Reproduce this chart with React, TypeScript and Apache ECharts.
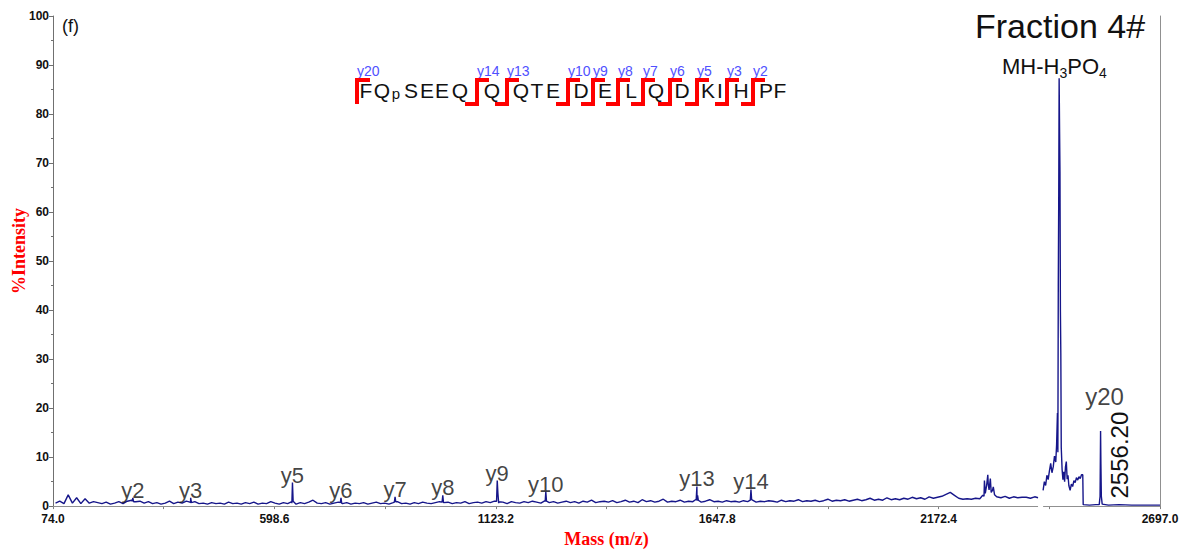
import React, { useEffect, useRef } from "react";
import * as echarts from "echarts";

// ---------------- data ----------------
const massMin = 74.0;
const massMax = 2697.0;
const xMajorTicks = [74.0, 598.6, 1123.2, 1647.8, 2172.4, 2697.0];
const xMinorTicks = [336.3, 860.9, 1385.5, 1910.1, 2434.7];
const intensityMax = 100;
const intensityInterval = 10;
const axisBreak = [2408, 2420];

const baselineStartMass = 80;
const baselineStepMass = 10;
const baselineIntensity = [
  0.6, 1.0, 0.5, 2.3, 0.6, 1.7, 0.5, 1.5, 0.6, 0.9,
  0.7, 0.5, 0.8, 0.4, 0.6, 0.9, 0.5, 1.0, 1.2, 0.9,
  1.0, 0.6, 0.9, 0.5, 0.7, 0.4, 0.6, 1.0, 0.5, 0.8,
  0.6, 1.0, 0.7, 0.9, 0.5, 0.6, 0.4, 0.7, 0.5, 0.6,
  0.4, 0.8, 0.5, 0.6, 0.4, 0.7, 0.5, 0.8, 0.4, 0.6,
  0.5, 0.9, 0.6, 0.4, 0.7, 0.5, 0.6, 0.4, 0.7, 0.5,
  0.8, 1.2, 0.6, 0.5, 0.7, 0.4, 0.6, 0.8, 0.5, 0.7,
  0.4, 0.6, 0.5, 0.7, 0.4, 0.6, 0.8, 0.5, 0.6, 0.4,
  0.7, 0.9, 0.5, 0.6, 0.4, 0.7, 0.5, 0.8, 0.6, 0.5,
  0.7, 0.9, 0.6, 0.8, 0.5, 0.7, 0.6, 0.9, 0.5, 0.7,
  0.8, 0.6, 0.9, 0.7, 1.0, 0.6, 0.8, 0.5, 0.9, 0.7,
  0.6, 0.9, 0.7, 1.0, 0.8, 0.6, 1.1, 0.7, 0.9, 0.6,
  0.8, 1.0, 0.7, 0.9, 0.6, 1.0, 0.8, 1.2, 0.7, 0.9,
  1.0, 0.8, 1.1, 0.7, 0.9, 1.2, 0.8, 1.0, 0.7, 1.3,
  0.9, 1.1, 0.8, 1.0, 1.4, 0.8, 1.0, 0.9, 1.2, 0.8,
  1.0, 0.9, 1.1, 0.8, 1.0, 1.3, 0.9, 1.0, 0.8, 1.1,
  0.9, 1.0, 0.8, 1.1, 0.9, 1.2, 0.8, 1.0, 0.9, 1.1,
  1.0, 0.8, 1.2, 0.9, 1.1, 1.0, 1.3, 0.9, 1.1, 1.0,
  1.2, 0.9, 1.1, 1.4, 1.0, 1.2, 1.1, 1.3, 1.0, 1.2,
  1.4, 1.1, 1.3, 1.6, 1.2, 1.4, 1.2, 1.7, 1.3, 1.5,
  1.3, 1.6, 1.4, 1.8, 1.5, 1.7, 1.4, 1.9, 1.6, 1.8,
  2.0, 2.4, 2.8, 2.2, 1.6, 1.4, 1.5, 1.4, 1.6, 1.5,
  2.0, 4.5, 3.2, 1.9, 1.7, 2.0, 1.6, 1.9, 1.7, 1.8,
  1.8, 1.6, 1.9,
];

const fragmentPeaks: [number, number][] = [
  [261.5, 1.0], [263.2, 1.7], [265.0, 0.9],
  [398.5, 0.8], [400.2, 1.7], [402.0, 0.7],
  [639.8, 0.9], [641.4, 4.8], [643.0, 1.0],
  [754.8, 0.7], [756.4, 1.7], [758.0, 0.6],
  [882.9, 0.8], [884.5, 1.9], [886.1, 0.9],
  [996.0, 0.8], [997.6, 2.2], [999.2, 0.7],
  [1125.0, 1.0], [1126.6, 5.2], [1128.2, 2.6], [1130.0, 0.9],
  [1240.1, 0.9], [1241.7, 2.9], [1243.3, 1.0],
  [1598.1, 1.4], [1599.7, 4.0], [1601.3, 2.2], [1603.0, 1.2],
  [1726.2, 1.2], [1727.8, 3.4], [1729.4, 1.3],
  [2277, 2.2], [2281, 5.2], [2283, 2.6], [2286, 4.1], [2289, 6.4],
  [2292, 3.3], [2295, 5.6], [2297, 2.8], [2302, 3.9], [2305, 2.3],
  [2408, 1.7],
];

const precursorRegion: [number, number][] = [
  [2420, 3.2], [2423, 5.0], [2426, 4.2], [2429, 6.3], [2432, 5.4], [2435, 7.2],
  [2438, 8.7], [2441, 6.8], [2444, 8.0], [2447, 10.2], [2450, 9.0], [2452, 12.5],
  [2454, 19.0], [2455, 11.0], [2456, 45.0], [2457, 62.0], [2458, 87.3], [2459, 77.0],
  [2460, 68.0], [2461, 40.0], [2462, 31.0], [2463, 12.0], [2465, 7.5], [2467, 5.4],
  [2469, 7.0], [2471, 5.0], [2473, 8.0], [2475, 9.1], [2477, 5.5], [2479, 6.3],
  [2481, 4.2], [2484, 3.2], [2487, 4.5], [2490, 4.0], [2493, 5.2], [2496, 4.8],
  [2499, 5.8], [2502, 5.3], [2505, 6.0], [2508, 5.6], [2511, 6.4], [2514, 6.4],
  [2515, 0.3], [2530, 0.2], [2545, 0.3], [2553, 0.3], [2555, 2.0], [2556.2, 15.3],
  [2557, 8.5], [2558, 2.0], [2560, 0.4], [2575, 0.2], [2600, 0.3], [2630, 0.2],
  [2660, 0.2], [2697, 0.2],
];

const peakLabelNames = ["y2", "y3", "y5", "y6", "y7", "y8", "y9", "y10", "y13", "y14", "y20"];
const peakLabelMass = [263.2, 400.2, 641.4, 756.4, 884.5, 997.6, 1126.6, 1241.7, 1599.7, 1727.8, 2556.2];
const peakLabelIntensity = [1.7, 1.7, 4.8, 1.7, 1.9, 2.2, 5.2, 2.9, 4.0, 3.4, 15.3];
const y20MassText = "2556.20";

const sequenceResidues = ["F", "Q", "p", "S", "E", "E", "Q", "Q", "Q", "T", "E", "D", "E", "L", "Q", "D", "K", "I", "H", "P", "F"];
const cleavageLabels = ["y20", "y14", "y13", "y10", "y9", "y8", "y7", "y6", "y5", "y3", "y2"];

// ---------------- layout (pixels) ----------------
const residueX = [366, 382, 396, 411, 427, 442, 460, 492, 521, 537, 553, 581, 605, 631, 656, 682, 708, 720, 741, 766, 780];
const cleavageX = [357, 477, 507, 568, 593, 618, 643, 670, 697, 727, 753];
const SANS = "'Liberation Sans', Arial, sans-serif";
const SERIF = "'Liberation Serif', 'Times New Roman', serif";
const TRACE = "#16168a";

function buildTrace() {
  const left: [number, number][] = baselineIntensity.map((v, i) => [baselineStartMass + i * baselineStepMass, v] as [number, number]);
  const all = left.concat(fragmentPeaks).filter((p) => p[0] <= axisBreak[0]);
  all.sort((a, b) => a[0] - b[0]);
  const out: any[] = all.slice();
  out.push([(axisBreak[0] + axisBreak[1]) / 2, "-"]);
  return out.concat(precursorRegion);
}

function staticGraphics(): any[] {
  const g: any[] = [];
  g.push({ type: "text", x: 62, y: 26, style: { text: "(f)", fontFamily: SANS, fontSize: 18, fill: "#111", align: "left", verticalAlign: "middle" } });
  g.push({ type: "text", x: 975, y: 26, style: { text: "Fraction 4#", fontFamily: SANS, fontSize: 34, fill: "#111", align: "left", verticalAlign: "middle" } });
  g.push({
    type: "text", x: 1002, y: 66,
    style: {
      text: "MH-H{s|3}PO{s|4}", fontFamily: SANS, fontSize: 22, fill: "#111", align: "left", verticalAlign: "middle",
      rich: { s: { fontFamily: SANS, fontSize: 14, fill: "#111", padding: [14, 0, 0, 0] } },
    },
  });
  g.push({
    type: "text", x: 19, y: 251, rotation: Math.PI / 2,
    style: { text: "%Intensity", fontFamily: SERIF, fontWeight: "bold", fontSize: 18, fill: "#ff0000", align: "center", verticalAlign: "middle" },
  });
  cleavageX.forEach((x, i) => {
    const pts = i === 0 ? [[x, 104], [x, 80], [x + 13, 80]] : [[x - 12, 104], [x, 104], [x, 80], [x + 12, 80]];
    g.push({ type: "polyline", shape: { points: pts }, style: { stroke: "#ff0000", lineWidth: 4, fill: null, lineJoin: "miter" }, z: 1 });
    g.push({ type: "text", x: x, y: 71, style: { text: cleavageLabels[i], fontFamily: SANS, fontSize: 14, fill: "#5050ff", align: "left", verticalAlign: "middle" } });
  });
  sequenceResidues.forEach((r, i) => {
    const small = r === "p";
    g.push({
      type: "text", x: residueX[i], y: small ? 93 : 90, z: 2,
      style: { text: r, fontFamily: SANS, fontSize: small ? 15 : 21, fill: "#111", align: "center", verticalAlign: "middle" },
    });
  });
  return g;
}

export default function App() {
  const ref = useRef<HTMLDivElement>(null);
  useEffect(() => {
    if (!ref.current) return;
    const chart = echarts.init(ref.current, undefined, { renderer: "svg" });
    const labelData = peakLabelNames.map((n, i) => {
      const isY20 = n === "y20";
      return {
        name: n,
        value: [peakLabelMass[i], peakLabelIntensity[i]],
        label: isY20 ? { fontSize: 24, offset: [4, -22] } : undefined,
      };
    });
    const option: any = {
      animation: false,
      backgroundColor: "#ffffff",
      grid: { left: 53, right: 28, top: 16, bottom: 34 },
      xAxis: {
        type: "value", min: massMin, max: massMax,
        name: "Mass (m/z)", nameLocation: "middle", nameGap: 14,
        nameTextStyle: { color: "#ff0000", fontFamily: SERIF, fontWeight: "bold", fontSize: 18 },
        axisLine: { show: false },
        axisTick: { show: true, customValues: xMajorTicks.concat(xMinorTicks), length: 3, lineStyle: { color: "#808080" } },
        axisLabel: {
          customValues: xMajorTicks, formatter: (v: number) => v.toFixed(1),
          fontFamily: SANS, fontWeight: "bold", fontSize: 12, color: "#111", margin: 7,
        },
        splitLine: { show: false },
      },
      yAxis: [
        {
          type: "value", min: 0, max: intensityMax, interval: intensityInterval,
          axisLine: { show: true, lineStyle: { color: "#707070" } },
          axisTick: { show: true, length: 4, lineStyle: { color: "#707070" } },
          minorTick: { show: true, splitNumber: 2, length: 2, lineStyle: { color: "#707070" } },
          axisLabel: { fontFamily: SANS, fontWeight: "bold", fontSize: 12, color: "#111", margin: 4 },
          splitLine: { show: false },
        },
        {
          type: "value", position: "right", min: 0, max: intensityMax,
          axisLine: { show: true, lineStyle: { color: "#909090" } },
          axisTick: { show: false }, axisLabel: { show: false }, splitLine: { show: false },
        },
      ],
      series: [
        {
          type: "line", data: buildTrace(), showSymbol: false, symbol: "none", connectNulls: false,
          lineStyle: { color: TRACE, width: 1.4 }, z: 3,
          markLine: {
            silent: true, symbol: ["none", "none"], label: { show: false },
            lineStyle: { color: "#909090", width: 1, type: "solid" },
            data: [
              [{ coord: [massMin, 0] }, { coord: [axisBreak[0], 0] }],
              [{ coord: [axisBreak[1], 0] }, { coord: [massMax, 0] }],
            ],
          },
        },
        {
          type: "scatter", data: labelData, symbolSize: 1, itemStyle: { color: "transparent" }, z: 4,
          label: {
            show: true, position: "top", distance: 0, offset: [0, 4], formatter: "{b}",
            fontFamily: SANS, fontSize: 22, color: "#111",
          },
        },
      ],
    };
    chart.setOption(option);
    const p = chart.convertToPixel({ xAxisIndex: 0, yAxisIndex: 0 }, [peakLabelMass[peakLabelMass.length - 1], 0]) as number[];
    const g = staticGraphics();
    g.push({
      type: "text", x: p[0] + 19, y: p[1] - 51, rotation: Math.PI / 2,
      style: { text: y20MassText, fontFamily: SANS, fontSize: 24, fill: "#111", align: "center", verticalAlign: "middle" },
    });
    chart.setOption({ graphic: g });
    return () => chart.dispose();
  }, []);
  return <div ref={ref} style={{ width: 1188, height: 553, position: "absolute", left: 0, top: 0 }} />;
}
